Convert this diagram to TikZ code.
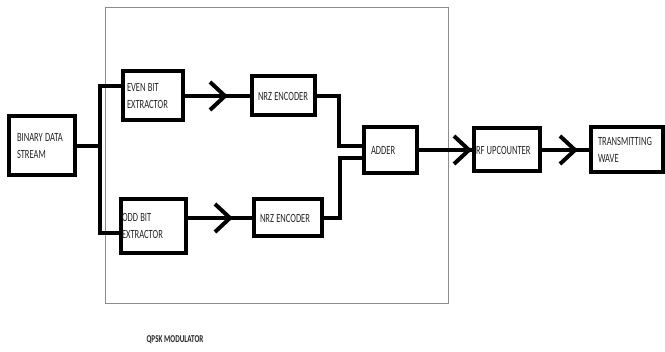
\documentclass[tikz,border=0pt]{standalone}
\usepackage{fontspec}
\newfontfamily\boxfont[FakeStretch=0.68]{Carlito}
\usetikzlibrary{decorations.markings}
\tikzset{
  blk/.style={draw=black, line width=4pt, fill=white, align=left,
    text=black!85, font=\boxfont\fontsize{12.5}{17}\selectfont,
    execute at begin node={\hyphenpenalty=10000\relax\spaceskip=2.2pt\relax},
    inner ysep=0pt, outer sep=0pt},
  wire/.style={draw=black, line width=4pt},
  chev/.style={postaction={decorate, decoration={markings,
    mark=at position #1 with {\draw[line width=4pt, line join=miter]
      (-15,14) -- (0,0) -- (-15,-14);}}}},
  frame/.style={draw=black!45, line width=0.9pt}
}
\begin{document}
\begin{tikzpicture}[x=1pt, y=-1pt]
\useasboundingbox (0,0) rectangle (665,352);
\draw[frame] (105,7) rectangle (448,303);

\node[blk, minimum width=66pt, minimum height=59pt, inner xsep=8pt, text width=50pt] (bin) at (42,146) {\mbox{BINARY DATA}\\STREAM};
\node[blk, minimum width=60pt, minimum height=49pt, inner xsep=4pt, text width=52pt] (even) at (153,96) {\mbox{EVEN BIT}\\EXTRACTOR};
\node[blk, minimum width=65pt, minimum height=54pt, inner xsep=1pt, text width=63pt] (odd) at (153.5,226) {\mbox{ODD BIT}\\EXTRACTOR};
\node[blk, minimum width=63pt, minimum height=39pt, inner xsep=6pt, text width=51pt] (nrz1) at (283.5,96) {\mbox{NRZ ENCODER}};
\node[blk, minimum width=68pt, minimum height=37pt, inner xsep=6pt, text width=56pt] (nrz2) at (288,218) {\mbox{NRZ ENCODER}};
\node[blk, minimum width=53pt, minimum height=46pt, inner xsep=7pt, text width=39pt] (adder) at (390.5,150) {ADDER};
\node[blk, minimum width=66pt, minimum height=43pt, inner xsep=2pt, text width=62pt] (rf) at (507,150) {\mbox{RF UPCOUNTER}};
\node[blk, minimum width=72pt, minimum height=45pt, inner xsep=7pt, text width=58pt] (tw) at (627,150) {TRANSMITTING\\WAVE};

\node[font=\boxfont\bfseries\fontsize{10.5}{12}\selectfont, text=black!85] (title) at (175,340) {QPSK MODULATOR};

\coordinate (j1) at (100,146);
\coordinate (a1) at (339,146);
\coordinate (a2) at (340,158);

\draw[wire] (bin.east |- j1) -- (j1);
\draw[wire] (j1) |- (even.162);
\draw[wire] (j1) |- (odd.192);
\draw[wire, chev=-27pt] (even) -- (nrz1);
\draw[wire, chev=-24pt] (odd.east |- nrz2) -- (nrz2);
\draw[wire] (nrz1.east) -| (a1) -- (adder.west |- a1);
\draw[wire] (nrz2.east) -| (a2) -- (adder.west |- a2);
\draw[wire, chev=-5pt] (adder) -- (rf);
\draw[wire, chev=-16pt] (rf) -- (tw);
\end{tikzpicture}
\end{document}
